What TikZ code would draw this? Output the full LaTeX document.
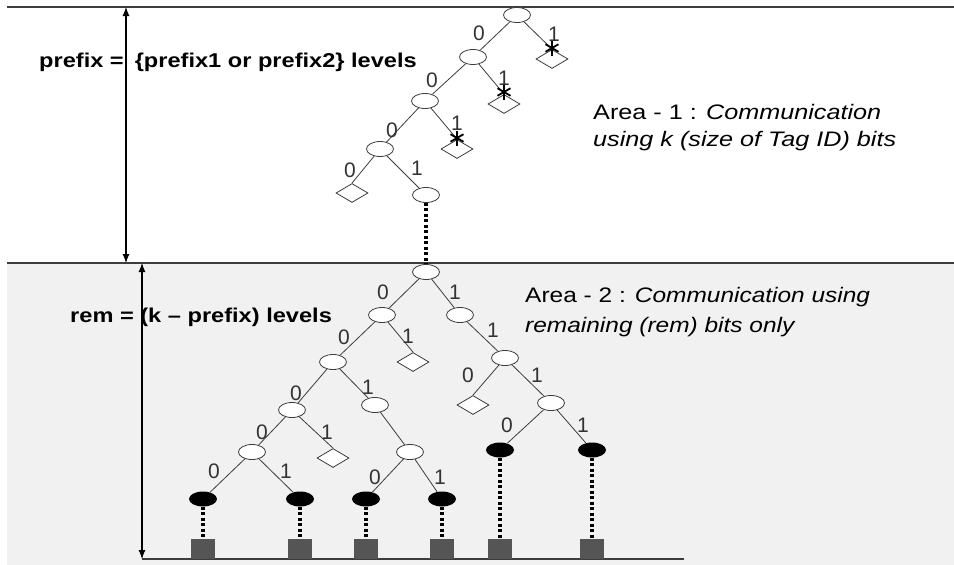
\documentclass[tikz,border=0pt]{standalone}
\usepackage{fontspec}
\setmainfont{Liberation Sans}
\newfontfamily\boldlblfont[FakeStretch=1.18]{Liberation Sans}
\newfontfamily\areaonefont[FakeStretch=1.2]{Liberation Sans}
\newfontfamily\areatwofont[FakeStretch=1.165]{Liberation Sans}
\usetikzlibrary{shapes.geometric,arrows.meta,calc}
\definecolor{bggray}{HTML}{F1F1F1}
\definecolor{linegray}{HTML}{3C3C3C}
\definecolor{sqgray}{HTML}{555555}
\begin{document}
\begin{tikzpicture}[x=1pt,y=-1pt,
 wnode/.style={ellipse,draw=linegray,fill=white,line width=0.8pt,minimum width=27pt,minimum height=15pt,inner sep=0pt},
 bnode/.style={ellipse,fill=black,minimum width=28pt,minimum height=15pt,inner sep=0pt},
 leaf/.style={diamond,draw=linegray,fill=white,line width=0.8pt,minimum width=32pt,minimum height=19pt,inner sep=0pt},
 tagbox/.style={rectangle,fill=sqgray,minimum width=24pt,minimum height=20pt,inner sep=0pt},
 edge/.style={draw=linegray,line width=0.8pt},
 bit/.style={font=\fontsize{21}{21}\selectfont,text=black!80,inner sep=0pt},
 dotlink/.style={draw=black,line width=3.5pt,line cap=butt,dash pattern=on 3pt off 2.5pt},
 levelarrow/.style={draw=black,{Latex[length=9pt,width=7pt]}-{Latex[length=9pt,width=7pt]},line width=1.1pt},
 rule/.style={draw=linegray,line width=1.3pt},
 boldlbl/.style={anchor=west,inner sep=0pt,font=\boldlblfont\bfseries\fontsize{20}{24}\selectfont},
 areaone/.style={anchor=west,inner sep=0pt,font=\areaonefont\fontsize{21}{25}\selectfont},
 areatwo/.style={anchor=west,inner sep=0pt,font=\areatwofont\fontsize{21}{25}\selectfont},
 starline/.style={line width=1.8pt,black}
]
\useasboundingbox (0,0) rectangle (954,565);
\fill[bggray] (7,263) rectangle (954,565);

% rules
\coordinate (rt1) at (7,7);   \coordinate (rt2) at (954,7);
\coordinate (rm1) at (7,263); \coordinate (rm2) at (954,263);
\coordinate (rb1) at (142,559); \coordinate (rb2) at (684,559);
\draw[rule] (rt1) -- (rt2);
\draw[rule] (rm1) -- (rm2);
\draw[rule] (rb1) -- (rb2);

% level arrows
\coordinate (pa1) at (126,7);   \coordinate (pa2) at (126,263);
\coordinate (ra1) at (142,263); \coordinate (ra2) at (142,559);
\draw[levelarrow] (pa1) -- (pa2);
\draw[levelarrow] (ra1) -- (ra2);

% texts
\node[boldlbl] (tprefix) at (39,62) {prefix =\hspace{11pt}\{prefix1 or prefix2\} levels};
\node[boldlbl] (trem) at (70,317) {rem = (k – prefix) levels};
\node[areaone] (tarea1a) at (593,112) {Area - 1 : \textit{Communication}};
\node[areaone] (tarea1b) at (593,141) {\textit{using k (size of Tag ID) bits}};
\node[areatwo] (tarea2a) at (525,297) {Area - 2 : \textit{Communication using}};
\node[areatwo] (tarea2b) at (525,327) {\textit{remaining (rem) bits only}};

% upper tree
\node[wnode] (u0) at (517,15) {};
\node[wnode] (u1) at (473,57) {};
\node[leaf]  (d1) at (552,59) {};
\node[wnode] (u2) at (425,101) {};
\node[leaf]  (d2) at (504,104) {};
\node[wnode] (u3) at (380,149) {};
\node[leaf]  (d3) at (457,149) {};
\node[leaf]  (d4) at (352,193) {};
\node[wnode] (u4) at (426,195) {};
\draw[edge] (u0) -- (u1);
\draw[edge] (u0) -- (d1.north);
\draw[edge] (u1) -- (u2);
\draw[edge] (u1) -- (d2.north);
\draw[edge] (u2) -- (u3);
\draw[edge] (u2) -- (d3.north);
\draw[edge] (u3) -- (d4.north);
\draw[edge] (u3) -- (u4);
\node[bit] (b1) at (479,33) {0};
\node[bit] (b2) at (554,34) {1};
\node[bit] (b3) at (432,80) {0};
\node[bit] (b4) at (504,78) {1};
\node[bit] (b5) at (392,130) {0};
\node[bit] (b6) at (457,123) {1};
\node[bit] (b7) at (350,170) {0};
\node[bit] (b8) at (417,168) {1};

% stars
\coordinate (s1) at (552,48);
\coordinate (s2) at (504,92);
\coordinate (s3) at (457,138);
\foreach \s in {s1,s2,s3}{
  \foreach \a in {90,30,150}{
    \draw[starline] ($(\s)+(\a:7.5)$) -- ($(\s)+(\a+180:7.5)$);
  }
}

% lower tree
\node[wnode] (r0) at (426,272) {};
\draw[dotlink] (u4) -- (r0);
\node[wnode] (na) at (382,315) {};
\node[wnode] (nb) at (460,315) {};
\node[wnode] (nc) at (333,362) {};
\node[leaf]  (da) at (413,362) {};
\node[wnode] (nd) at (505,358) {};
\node[leaf]  (dd) at (473,405) {};
\node[wnode] (ne) at (551,403) {};
\node[bnode] (nf) at (500,450) {};
\node[bnode] (ng) at (592,450) {};
\node[wnode] (nh) at (292,410) {};
\node[wnode] (ni) at (375,405) {};
\node[wnode] (nj) at (252,452) {};
\node[leaf]  (dh) at (333,458) {};
\node[wnode] (nk) at (410,452) {};
\node[bnode] (kl) at (366,499) {};
\node[bnode] (kr) at (442,499) {};
\node[bnode] (jl) at (203,499) {};
\node[bnode] (jr) at (300,499) {};

\draw[edge] (r0) -- (na);
\draw[edge] (r0) -- (nb);
\draw[edge] (na) -- (nc);
\draw[edge] (na) -- (da.north);
\draw[edge] (nb) -- (nd);
\draw[edge] (nd) -- (dd.north);
\draw[edge] (nd) -- (ne);
\draw[edge] (ne) -- (nf);
\draw[edge] (ne) -- (ng);
\draw[edge] (nc) -- (nh);
\draw[edge] (nc) -- (ni);
\draw[edge] (nh) -- (nj);
\draw[edge] (nh) -- (dh.north);
\draw[edge] (ni) -- (nk);
\draw[edge] (nk) -- (kl);
\draw[edge] (nk) -- (kr);
\draw[edge] (nj) -- (jl);
\draw[edge] (nj) -- (jr);

\node[bit] (c1) at (383,292) {0};
\node[bit] (c2) at (455,292) {1};
\node[bit] (c3) at (344,337) {0};
\node[bit] (c4) at (408,336) {1};
\node[bit] (c5) at (493,330) {1};
\node[bit] (c6) at (468,375) {0};
\node[bit] (c7) at (537,375) {1};
\node[bit] (c8) at (507,425) {0};
\node[bit] (c9) at (583,425) {1};
\node[bit] (c10) at (296,393) {0};
\node[bit] (c11) at (368,387) {1};
\node[bit] (c12) at (262,432) {0};
\node[bit] (c13) at (327,432) {1};
\node[bit] (c14) at (375,477) {0};
\node[bit] (c15) at (440,477) {1};
\node[bit] (c16) at (214,471) {0};
\node[bit] (c17) at (286,471) {1};

% tags
\node[tagbox] (q1) at (203,549) {};
\node[tagbox] (q2) at (300,549) {};
\node[tagbox] (q3) at (366,549) {};
\node[tagbox] (q4) at (442,549) {};
\node[tagbox] (q5) at (500,549) {};
\node[tagbox] (q6) at (592,549) {};
\draw[dotlink] (jl) -- (q1);
\draw[dotlink] (jr) -- (q2);
\draw[dotlink] (kl) -- (q3);
\draw[dotlink] (kr) -- (q4);
\draw[dotlink] (nf) -- (q5);
\draw[dotlink] (ng) -- (q6);
\end{tikzpicture}
\end{document}
